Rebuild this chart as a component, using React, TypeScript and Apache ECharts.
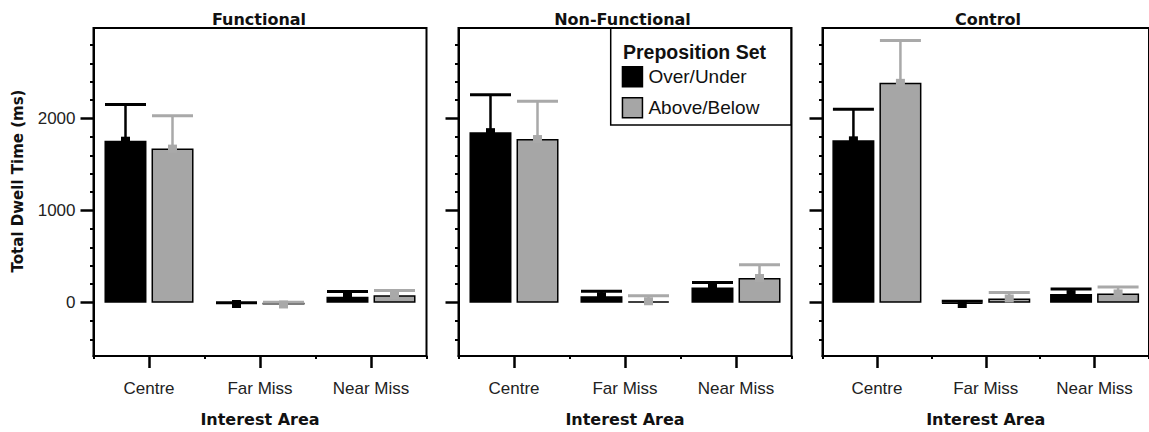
import React, { useEffect, useRef } from "react";
import * as echarts from "echarts";

const categories = ["Centre", "Far Miss", "Near Miss"];
const panelTitles = ["Functional", "Non-Functional", "Control"];
const seriesNames = ["Over/Under", "Above/Below"];

const functionalOU = [1760, -15, 65];
const functionalOUErr = [393, 15, 55];
const functionalAB = [1674, -20, 80];
const functionalABErr = [358, 25, 52];

const nonFunctionalOU = [1853, 70, 165];
const nonFunctionalOUErr = [407, 55, 55];
const nonFunctionalAB = [1778, 15, 268];
const nonFunctionalABErr = [411, 60, 143];

const controlOU = [1764, -15, 93];
const controlOUErr = [339, 30, 55];
const controlAB = [2389, 45, 100];
const controlABErr = [461, 65, 70];

const yMajorTicks = [0, 1000, 2000];
const yMinorTicks = [-400, -200, 200, 400, 600, 800, 1200, 1400, 1600, 1800, 2200, 2400, 2600, 2800];

const panelMeans = [
  [functionalOU, functionalAB],
  [nonFunctionalOU, nonFunctionalAB],
  [controlOU, controlAB],
];
const panelErrs = [
  [functionalOUErr, functionalABErr],
  [nonFunctionalOUErr, nonFunctionalABErr],
  [controlOUErr, controlABErr],
];

const COLORS = ["#000000", "#a6a6a6"];
const ERR_COLORS = ["#000000", "#a9a9a9"];
const GRID_LEFTS = [93.5, 458.5, 822.5];
const TITLE_X = [259, 622.5, 988];
const TICK_FONT = "'Liberation Sans', Arial, sans-serif";
const BOLD_FONT = "'DejaVu Sans', Verdana, sans-serif";

export default function App() {
  const ref = useRef<HTMLDivElement>(null);

  useEffect(() => {
    if (!ref.current) return;
    const chart = echarts.init(ref.current, null, { renderer: "svg" });

    const grid: any[] = [];
    const xAxis: any[] = [];
    const yAxis: any[] = [];
    const series: any[] = [];

    for (let g = 0; g < 3; g++) {
      grid.push({
        left: GRID_LEFTS[g],
        top: 28,
        width: 333,
        height: 333,
        show: true,
        borderColor: "#000",
        borderWidth: 2,
        backgroundColor: "transparent",
        containLabel: false,
      });
      xAxis.push({
        type: "category",
        gridIndex: g,
        position: "bottom",
        data: categories,
        boundaryGap: true,
        axisLine: { show: true, onZero: false, lineStyle: { color: "#000", width: 2 } },
        axisTick: { show: true, alignWithLabel: true, length: 12, lineStyle: { color: "#000", width: 2.5 } },
        axisLabel: { show: true, margin: 24, fontSize: 17, color: "#222", fontFamily: TICK_FONT },
        splitLine: { show: false },
        name: "Interest Area",
        nameLocation: "middle",
        nameGap: 55,
        nameTextStyle: { fontFamily: BOLD_FONT, fontWeight: "bold", fontSize: 16, color: "#111" },
      });
      xAxis.push({
        type: "category",
        gridIndex: g,
        position: "bottom",
        data: categories,
        boundaryGap: true,
        axisLine: { show: false, onZero: false },
        axisTick: { show: true, alignWithLabel: false, length: 3, lineStyle: { color: "#000", width: 2 } },
        axisLabel: { show: false },
        splitLine: { show: false },
      });
      yAxis.push({
        type: "value",
        gridIndex: g,
        position: "left",
        min: -580,
        max: 2985,
        axisLine: { show: true, onZero: false, lineStyle: { color: "#000", width: 2 } },
        axisTick: { show: true, customValues: yMajorTicks, length: 13, lineStyle: { color: "#000", width: 2.5 } },
        axisLabel: {
          show: g === 0,
          customValues: yMajorTicks,
          formatter: (v: number) => String(v),
          margin: 18,
          fontSize: 17,
          color: "#222",
          fontFamily: TICK_FONT,
        },
        splitLine: { show: false },
      });
      yAxis.push({
        type: "value",
        gridIndex: g,
        position: "left",
        min: -580,
        max: 2985,
        axisLine: { show: false, onZero: false },
        axisTick: { show: true, customValues: yMinorTicks, length: 3.5, lineStyle: { color: "#000", width: 2 } },
        axisLabel: { show: false },
        splitLine: { show: false },
      });

      for (let s = 0; s < 2; s++) {
        series.push({
          type: "bar",
          name: seriesNames[s],
          xAxisIndex: g * 2,
          yAxisIndex: g * 2,
          data: panelMeans[g][s],
          barWidth: 42,
          barGap: "12%",
          itemStyle: { color: COLORS[s], borderColor: "#000", borderWidth: 1.5 },
          z: 2,
        });
      }
      for (let s = 0; s < 2; s++) {
        const offset = s === 0 ? -23.5 : 23.5;
        const color = ERR_COLORS[s];
        series.push({
          type: "custom",
          name: "err-" + g + "-" + s,
          xAxisIndex: g * 2,
          yAxisIndex: g * 2,
          z: 3,
          data: panelMeans[g][s].map((m, i) => [i, m, panelErrs[g][s][i]]),
          renderItem: (params: any, api: any) => {
            const cat = api.value(0);
            const mean = api.value(1);
            const se = api.value(2);
            const pm = api.coord([cat, mean]);
            const pt = api.coord([cat, mean + se]);
            const x = pm[0] + offset;
            const half = 20.5;
            return {
              type: "group",
              children: [
                { type: "line", shape: { x1: x, y1: pm[1], x2: x, y2: pt[1] }, style: { stroke: color, lineWidth: 2.5 } },
                { type: "line", shape: { x1: x - half, y1: pt[1], x2: x + half, y2: pt[1] }, style: { stroke: color, lineWidth: 3 } },
                { type: "rect", shape: { x: x - 4.5, y: pm[1] - 4, width: 9, height: 8 }, style: { fill: color } },
              ],
            };
          },
        });
      }
    }

    const graphic: any[] = [];
    for (let g = 0; g < 3; g++) {
      graphic.push({
        type: "text",
        x: TITLE_X[g],
        y: 19.5,
        style: {
          text: panelTitles[g],
          fontFamily: BOLD_FONT,
          fontWeight: "bold",
          fontSize: 16,
          fill: "#111",
          textAlign: "center",
          textVerticalAlign: "middle",
        },
      });
    }
    graphic.push({
      type: "text",
      x: 18,
      y: 181,
      rotation: Math.PI / 2,
      style: {
        text: "Total Dwell Time (ms)",
        fontFamily: BOLD_FONT,
        fontWeight: "bold",
        fontSize: 15,
        fill: "#111",
        textAlign: "center",
        textVerticalAlign: "middle",
      },
    });
    graphic.push({
      type: "rect",
      z: 1,
      shape: { x: 610.7, y: 28.3, width: 180.3, height: 96.7 },
      style: { fill: "#fff", stroke: "#000", lineWidth: 1.5 },
    });
    graphic.push({
      type: "text",
      z: 2,
      x: 623,
      y: 52,
      style: {
        text: "Preposition Set",
        fontFamily: TICK_FONT,
        fontWeight: "bold",
        fontSize: 19.5,
        fill: "#111",
        textAlign: "left",
        textVerticalAlign: "middle",
      },
    });

    chart.setOption({
      animation: false,
      backgroundColor: "#fff",
      grid,
      xAxis,
      yAxis,
      series,
      graphic,
      legend: {
        data: seriesNames,
        orient: "vertical",
        left: 616.7,
        top: 61,
        z: 5,
        icon: "rect",
        itemWidth: 20,
        itemHeight: 20,
        itemGap: 9.5,
        itemStyle: { borderColor: "#000", borderWidth: 1.5 },
        textStyle: { fontSize: 19, fontFamily: TICK_FONT, color: "#111", padding: [0, 0, 0, 1] },
        selectedMode: false,
      },
    });

    return () => chart.dispose();
  }, []);

  return (
    <div style={{ position: "fixed", left: 0, top: 0, width: 1149, height: 432, overflow: "hidden", background: "#fff" }}>
      <div ref={ref} style={{ width: 1149, height: 432 }} />
    </div>
  );
}
